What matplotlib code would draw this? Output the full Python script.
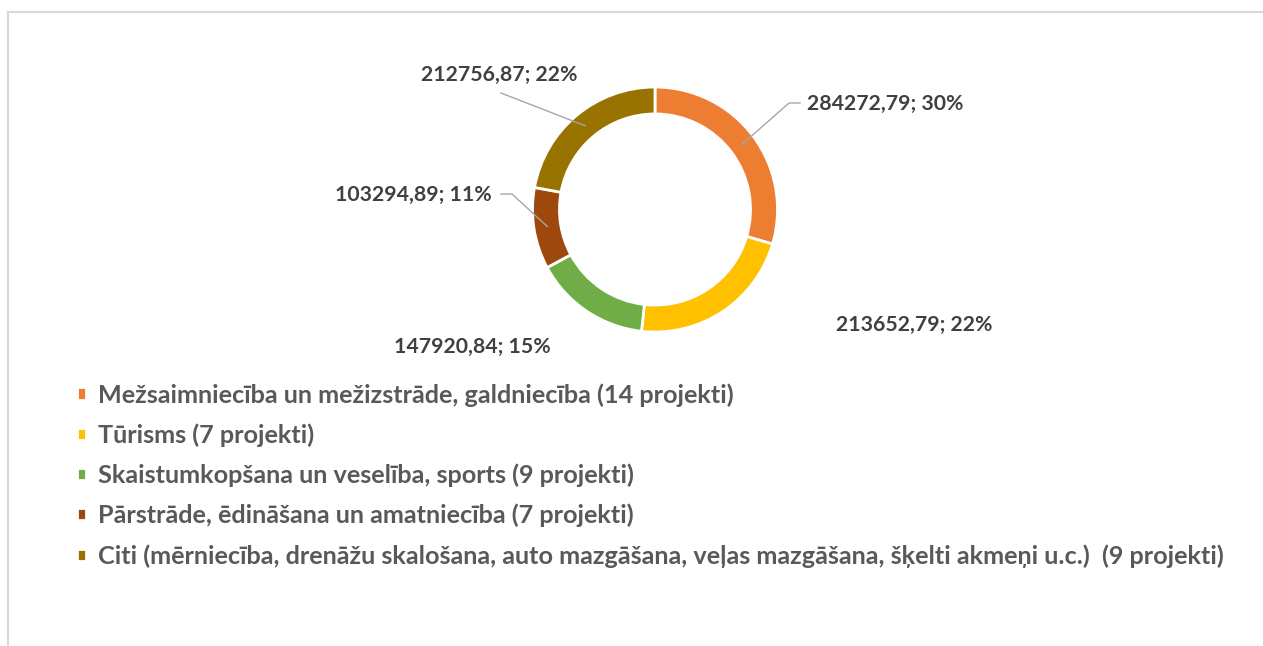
import matplotlib.pyplot as plt
from matplotlib.lines import Line2D
import numpy as np

plt.rcParams['font.family'] = ['Lato', 'DejaVu Sans']

# Data
categories = [
    'Mežsaimniecība un mežizstrāde, galdniecība (14 projekti)',
    'Tūrisms (7 projekti)',
    'Skaistumkopšana un veselība, sports (9 projekti)',
    'Pārstrāde, ēdināšana un amatniecība (7 projekti)',
    'Citi (mērniecība, drenāžu skalošana, auto mazgāšana, veļas mazgāšana, šķelti akmeņi u.c.)  (9 projekti)',
]
values = [284272.79, 213652.79, 147920.84, 103294.89, 212756.87]
colors = ['#ED7D31', '#FFC000', '#70AD47', '#9E480E', '#997300']

W, H = 1263, 646
cx, cy, R = 655, 209.5, 122.5   # donut centre / radius in pixels
span = 3.0

fig = plt.figure(figsize=(W / 100, H / 100), dpi=100)
ax = fig.add_axes([(cx - R * span) / W, (H - cy - R * span) / H,
                   2 * R * span / W, 2 * R * span / H])

ring = 0.22
wedges, _ = ax.pie(values, colors=colors, startangle=90, counterclock=False,
                   radius=1, wedgeprops=dict(width=ring, edgecolor='white', linewidth=2))
ax.set_xlim(-span, span)
ax.set_ylim(-span, span)
ax.axis('off')

def px(x, y):
    # pixel position -> data coords of the pie axes
    return (x - cx) / R, (cy - y) / R

# label placement (pixels): x, y, ha, leader path points after the ring
label_pos = [
    (807, 104, 'left', [(789, 103), (800, 103)]),
    (836, 325, 'left', None),
    (394, 347, 'left', None),
    (492, 195, 'right', [(512, 194), (501, 194)]),
    (421, 75, 'left', [(501, 93)]),
]

total = sum(values)
for w, v, (lx, ly, ha, path) in zip(wedges, values, label_pos):
    txt = f"{v:.2f}".replace('.', ',') + f"; {round(100 * v / total)}%"
    tx, ty = px(lx, ly)
    ax.text(tx, ty, txt, ha=ha, va='center', fontsize=15.3, fontweight='bold', color='#404040')
    if path:
        ang = np.deg2rad((w.theta1 + w.theta2) / 2)
        r0 = 1 - ring / 2
        xs = [r0 * np.cos(ang)] + [px(*p)[0] for p in path]
        ys = [r0 * np.sin(ang)] + [px(*p)[1] for p in path]
        ax.plot(xs, ys, color='#a6a6a6', lw=1)

fig.legend(wedges, categories, loc='upper left', bbox_to_anchor=(77 / W, 1 - 383 / H),
           frameon=False, handlelength=0.36, handleheight=0.36, handletextpad=0.48,
           labelspacing=0.66, borderpad=0, borderaxespad=0,
           prop=dict(size=18.2, weight='bold'), labelcolor='#595959')

# chart border (only top and left visible)
fig.add_artist(Line2D([8 / W, 1], [1 - 12 / H] * 2, transform=fig.transFigure, color='#d9d9d9', lw=1.5))
fig.add_artist(Line2D([8 / W] * 2, [0, 1 - 12 / H], transform=fig.transFigure, color='#d9d9d9', lw=1.5))

fig.savefig('out.png', dpi=100, facecolor='white')
